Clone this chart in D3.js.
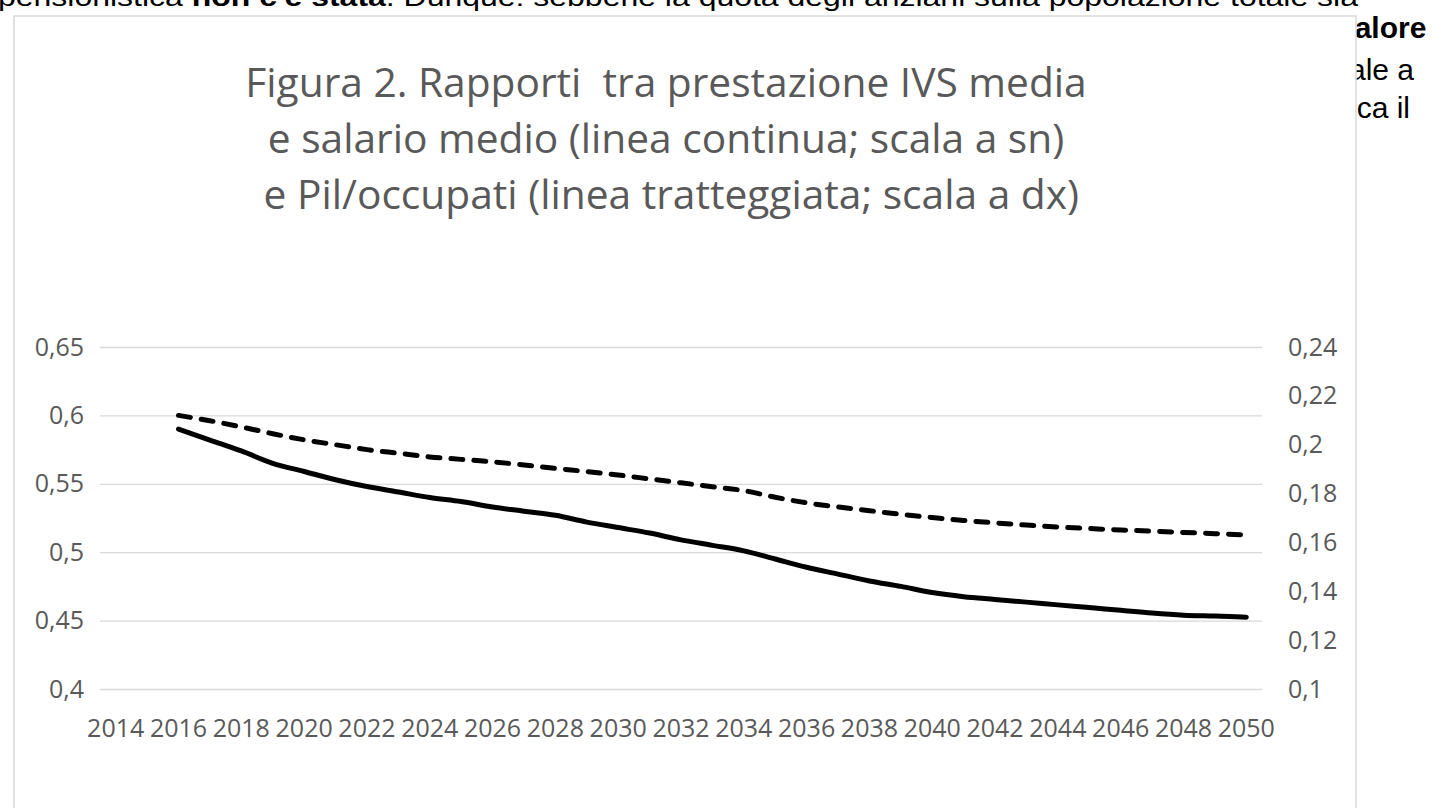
<!DOCTYPE html>
<html>
<head>
<meta charset="utf-8">
<script src="https://d3js.org/d3.v7.min.js"></script>
<style>
  body { margin: 0; background: #fff; }
  svg { display: block; }
</style>
</head>
<body>
<script>
'use strict';

// years on the category axis (2014 and 2015 have no value)
const years = d3.range(2014, 2051);
const yearLabels = d3.range(2014, 2051, 2);

// prestazione IVS media / salario medio (solid line, left scale)
const ivsSalario = [null, null,
  0.590, 0.582, 0.574, 0.565, 0.559, 0.553, 0.548, 0.544, 0.540, 0.537,
  0.533, 0.530, 0.527, 0.522, 0.518, 0.514, 0.509, 0.505, 0.501, 0.495,
  0.489, 0.484, 0.479, 0.475, 0.4705, 0.4675, 0.4655, 0.4635, 0.4615, 0.4595,
  0.4575, 0.4555, 0.454, 0.4533, 0.4525];

// Pil / occupati (dashed line, right scale)
const pilOccupati = [null, null,
  0.212, 0.2098, 0.2073, 0.2045, 0.202, 0.200, 0.198, 0.1965, 0.195, 0.194,
  0.193, 0.1917, 0.1903, 0.189, 0.1876, 0.186, 0.1844, 0.1828, 0.1812, 0.1785,
  0.1762, 0.1745, 0.173, 0.1715, 0.1702, 0.169, 0.168, 0.1671, 0.1663, 0.1657,
  0.1651, 0.1646, 0.1641, 0.1636, 0.1631];

const leftTicks = [0.4, 0.45, 0.5, 0.55, 0.6, 0.65];
const rightTicks = [0.1, 0.12, 0.14, 0.16, 0.18, 0.2, 0.22, 0.24];

const titleLines = [
  "Figura 2. Rapporti\u00a0 tra prestazione IVS media",
  "e salario medio (linea continua; scala a sn)",
  "\u00a0e Pil/occupati (linea tratteggiata; scala a dx)"
];

(function() {

  let svg = "";
  const grey = "#595959";
  const itFormat = d3.formatLocale({ decimal: ",", thousands: ".", grouping: [3], currency: ["", "€"] }).format("~g");

  window.onload = function() {
    svg = d3.select('body')
      .append('svg')
      .attr('width', 1434)
      .attr('height', 808);

    drawPageText();
    drawChart();
  }

  // bits of the surrounding document that peek out around the chart image
  function drawPageText() {
    let top = svg.append('text')
      .attr('x', -2)
      .attr('y', 5.5)
      .attr('textLength', 1360)
      .attr('lengthAdjust', 'spacingAndGlyphs')
      .style('font-family', 'Liberation Sans, Arial, sans-serif')
      .style('font-size', '25px')
      .attr('fill', '#000');
    top.append('tspan').text("pensionistica ");
    top.append('tspan').style('font-weight', 'bold').text("non c'è stata");
    top.append('tspan').text(". Dunque: sebbene la quota degli anziani sulla popolazione totale sia");

    // paragraph line ends, mostly hidden behind the chart frame
    let side = [
      { t: "valore", x: 1338, y: 38, anchor: 'start', bold: true },
      { t: "uguale a", x: 1414, y: 80, anchor: 'end', bold: false },
      { t: "indica il", x: 1410, y: 118, anchor: 'end', bold: false }
    ];
    svg.selectAll('.side')
      .data(side)
      .enter()
      .append('text')
        .attr('class', 'side')
        .attr('x', (d) => d.x)
        .attr('y', (d) => d.y)
        .attr('text-anchor', (d) => d.anchor)
        .style('font-family', 'Liberation Sans, Arial, sans-serif')
        .style('font-size', '30px')
        .style('font-weight', (d) => d.bold ? 'bold' : 'normal')
        .text((d) => d.t);

    // chart frame, runs off the bottom of the page
    svg.append('rect')
      .attr('x', 14)
      .attr('y', 16)
      .attr('width', 1342)
      .attr('height', 820)
      .attr('fill', '#fff')
      .attr('stroke', '#d9d9d9')
      .attr('stroke-width', 1.5);
  }

  function drawChart() {
    let x = d3.scaleBand()
      .domain(years)
      .range([100, 1262]);
    let yLeft = d3.scaleLinear()
      .domain([0.4, 0.65])
      .range([689, 347]);
    let yRight = d3.scaleLinear()
      .domain([0.1, 0.24])
      .range([689, 347]);

    // title
    svg.append('g')
      .selectAll('text')
      .data(titleLines)
      .enter()
      .append('text')
        .attr('x', 666)
        .attr('y', (d, i) => 97 + i * 56)
        .attr('text-anchor', 'middle')
        .style('font-family', 'Open Sans, sans-serif')
        .style('font-size', '40.7px')
        .attr('fill', grey)
        .text((d) => d);

    // gridlines
    svg.append('g')
      .attr('transform', 'translate(100, 0)')
      .call(d3.axisLeft(yLeft).tickValues(leftTicks).tickSize(-1162).tickFormat(''))
      .call((g) => g.select('.domain').remove())
      .call((g) => g.selectAll('line').attr('stroke', '#d9d9d9').attr('stroke-width', 1.3));

    // left axis labels
    let left = svg.append('g')
      .attr('transform', 'translate(100, 0)')
      .call(d3.axisLeft(yLeft).tickValues(leftTicks).tickSize(0).tickPadding(16).tickFormat(itFormat));
    styleAxis(left, '25px');

    // right axis labels
    let right = svg.append('g')
      .attr('transform', 'translate(1262, 0)')
      .call(d3.axisRight(yRight).tickValues(rightTicks).tickSize(0).tickPadding(26).tickFormat(itFormat));
    styleAxis(right, '25px');

    // year labels
    let bottom = svg.append('g')
      .attr('transform', 'translate(0, 689)')
      .call(d3.axisBottom(x).tickValues(yearLabels).tickSize(0).tickPadding(30));
    styleAxis(bottom, '25px');

    let rows = years.map((yr, i) => ({ year: yr, a: ivsSalario[i], b: pilOccupati[i] }));

    let solid = d3.line()
      .defined((d) => d.a != null)
      .x((d) => x(d.year) + x.bandwidth() / 2)
      .y((d) => yLeft(d.a))
      .curve(d3.curveMonotoneX);

    let dashed = d3.line()
      .defined((d) => d.b != null)
      .x((d) => x(d.year) + x.bandwidth() / 2)
      .y((d) => yRight(d.b))
      .curve(d3.curveMonotoneX);

    svg.append('path')
      .datum(rows)
      .attr('d', dashed)
      .attr('fill', 'none')
      .attr('stroke', '#000')
      .attr('stroke-width', 5)
      .attr('stroke-linecap', 'round')
      .attr('stroke-dasharray', '12,11');

    svg.append('path')
      .datum(rows)
      .attr('d', solid)
      .attr('fill', 'none')
      .attr('stroke', '#000')
      .attr('stroke-width', 5)
      .attr('stroke-linecap', 'round')
      .attr('stroke-linejoin', 'round');
  }

  // grey tick text, no axis line
  function styleAxis(g, size) {
    g.select('.domain').remove();
    g.selectAll('text')
      .style('font-family', 'Open Sans, sans-serif')
      .style('font-size', size)
      .attr('fill', grey);
  }

})();
</script>
</body>
</html>
